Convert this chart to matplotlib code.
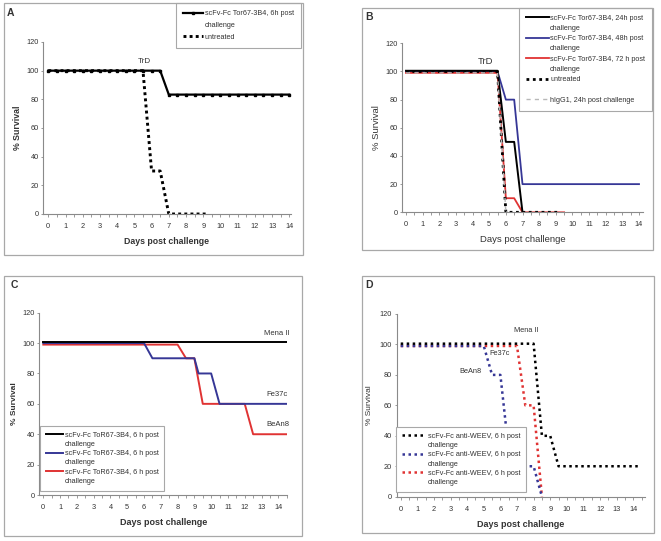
import matplotlib
matplotlib.use("Agg")
import matplotlib.pyplot as plt
import matplotlib.patches as patches
from matplotlib.lines import Line2D

plt.rcParams['font.family'] = ['Liberation Sans', 'DejaVu Sans']

W, H = 661, 541

# ---- data ----
x_ticks = [0, 1, 2, 3, 4, 5, 6, 7, 8, 9, 10, 11, 12, 13, 14]
y_ticks = [0, 20, 40, 60, 80, 100, 120]

# panel A
a_days = [0, 0.5, 1, 1.5, 2, 2.5, 3, 3.5, 4, 4.5, 5, 5.5, 6, 6.5,
          7, 7.5, 8, 8.5, 9, 9.5, 10, 10.5, 11, 11.5, 12, 12.5, 13, 13.5, 14]
a_treated = [100, 100, 100, 100, 100, 100, 100, 100, 100, 100, 100, 100, 100, 100,
             83.3, 83.3, 83.3, 83.3, 83.3, 83.3, 83.3, 83.3, 83.3, 83.3, 83.3, 83.3, 83.3, 83.3, 83.3]
a_untr_days = [0, 5.5, 6, 6.5, 7, 9.2]
a_untr = [100, 100, 30, 30, 0, 0]

# panel B
b_24_days = [0, 5.5, 6, 6.5, 7]
b_24 = [100.5, 100.5, 50, 50, 0]
b_48_days = [0, 5.5, 6, 6.5, 7, 14]
b_48 = [100, 100, 80, 80, 20, 20]
b_72_days = [0, 5.5, 6, 6.5, 7, 9.5]
b_72 = [99, 99, 10, 10, 0, 0]
b_untr_days = [0, 5.5, 6, 9.2]
b_untr = [100, 100, 0, 0]
b_igg_days = [0, 5.5, 6]
b_igg = [99, 99, 0]

# panel C
c_mena_days = [0, 14.5]
c_mena = [101, 101]
c_fe_days = [0, 6, 6.5, 9, 9.25, 10, 10.5, 14.5]
c_fe = [100, 100, 90, 90, 80, 80, 60, 60]
c_be_days = [0, 8, 8.5, 9, 9.5, 12, 12.5, 14.5]
c_be = [99, 99, 90, 90, 60, 60, 40, 40]

# panel D
d_mena_days = [0, 8, 8.5, 9, 9.5, 14.4]
d_mena = [100.5, 100.5, 40, 40, 20, 20]
d_be_days = [0, 5, 5.5, 6, 6.5, 7, 7.5, 8, 8.5]
d_be = [99, 99, 80, 80, 30, 30, 20, 20, 0]
d_fe_days = [0, 7, 7.5, 8, 8.5]
d_fe = [99, 99, 60, 60, 0]

BLUE = '#363796'
RED = '#e03333'
AXC = '#8a8a8a'
TXT = '#333333'

fig = plt.figure(figsize=(W / 100, H / 100), dpi=100)


def frame(x0, y0, x1, y1):
    fig.add_artist(patches.Rectangle((x0 / W, 1 - y1 / H), (x1 - x0) / W, (y1 - y0) / H,
                                     transform=fig.transFigure, fill=False,
                                     edgecolor='#a8a8a8', linewidth=0.9))


def make_ax(x0, x14, left, right, ybot, ytop, xend=False):
    s = (x14 - x0) / 14.0
    ax = fig.add_axes([left / W, 1 - ybot / H, (right - left) / W, (ybot - ytop) / H])
    ax.set_xlim((left - x0) / s, (right - x0) / s)
    ax.set_ylim(0, 120)
    ax.set_xticks(x_ticks)
    ax.set_xticks([t + 0.5 for t in x_ticks[:-1]] + ([14.5] if xend else []), minor=True)
    ax.set_yticks(y_ticks)
    for sp in ['top', 'right']:
        ax.spines[sp].set_visible(False)
    for sp in ['left', 'bottom']:
        ax.spines[sp].set_color(AXC)
        ax.spines[sp].set_linewidth(0.8)
    ax.tick_params(which='both', colors=AXC, labelcolor=TXT, labelsize=5.3, width=0.6)
    ax.tick_params(axis='x', which='major', length=2.5, pad=4)
    ax.tick_params(axis='y', which='major', length=1.8, pad=1.3)
    ax.tick_params(which='minor', length=2)
    ax.patch.set_alpha(0)
    ax._px = (left, right)
    return ax


def ylab(ax, text, xpx, **kw):
    ax.set_ylabel(text, color=TXT, **kw)
    left, right = ax._px
    ax.yaxis.set_label_coords((xpx - left) / (right - left), 0.5)


blank = Line2D([], [], linestyle='none')


def leg(ax, handles, labels, x, y, hl, ls=0.3, bp=0.8):
    lg = ax.legend(handles, labels, loc='upper left', bbox_to_anchor=(x / W, 1 - y / H),
                   bbox_transform=fig.transFigure, borderaxespad=0, fancybox=False,
                   framealpha=1, edgecolor='#a8a8a8', fontsize=5.2, handlelength=hl,
                   handletextpad=0.2, labelspacing=ls, borderpad=bp)
    lg.get_frame().set_linewidth(0.8)
    for t in lg.get_texts():
        t.set_color(TXT)
    return lg


dots = (0, (1, 1.1))

# ---------------- A ----------------
frame(4, 3, 303, 255)
axA = make_ax(48.3, 289.3, 43, 290.5, 214, 42)
axA.plot(a_days, a_treated, color='black', lw=1.6, marker='s', ms=1.6)
axA.plot(a_untr_days, a_untr, color='black', lw=2.1, linestyle=dots)
axA.text(5.6, 104, 'TrD', ha='center', va='bottom', fontsize=5.8, color=TXT)
axA.set_xlabel('Days post challenge', fontsize=6.3, fontweight='bold', color=TXT, labelpad=5)
ylab(axA, '% Survival', 22, fontsize=6.3, fontweight='bold')
fig.text(7 / W, 1 - 16 / H, 'A', fontsize=7.5, fontweight='bold', color=TXT)
leg(axA,
    [Line2D([], [], color='black', lw=1.6, marker='s', ms=1.6), blank,
     Line2D([], [], color='black', lw=2.1, linestyle=dots)],
    ['scFv-Fc Tor67-3B4, 6h post', 'challenge', 'untreated'], 176, 3, 2.8, ls=0.65, bp=1.0)

# ---------------- B ----------------
frame(362, 8, 653, 250)
axB = make_ax(406, 639, 402, 643, 212.3, 43.3)
axB.plot(b_48_days, b_48, color=BLUE, lw=1.3)
axB.plot(b_72_days, b_72, color=RED, lw=1.3)
axB.plot(b_untr_days, b_untr, color='black', lw=2.0, linestyle=(0, (1, 1.3)))
axB.plot(b_24_days, b_24, color='black', lw=1.4)
axB.plot(b_igg_days, b_igg, color='#b8b8b8', lw=1.0, linestyle=(0, (3, 3)))
axB.text(4.75, 104, 'TrD', ha='center', va='bottom', fontsize=6.8, color=TXT)
axB.set_xlabel('Days post challenge', fontsize=6.8, color=TXT, labelpad=5)
ylab(axB, '% Survival', 381, fontsize=6.8)
fig.text(365 / W, 1 - 20 / H, 'B', fontsize=7.5, fontweight='bold', color=TXT)
leg(axB,
    [Line2D([], [], color='black', lw=1.4), blank,
     Line2D([], [], color=BLUE, lw=1.3), blank,
     Line2D([], [], color=RED, lw=1.3), blank,
     Line2D([], [], color='black', lw=2.0, linestyle=(0, (1, 1.3))), blank,
     Line2D([], [], color='#b8b8b8', lw=1.0, linestyle=(0, (3, 3)))],
    ['scFv-Fc Tor67-3B4, 24h post', 'challenge', 'scFv-Fc Tor67-3B4, 48h post', 'challenge',
     'scFv-Fc Tor67-3B4, 72 h post', 'challenge', 'untreated', ' ', 'hIgG1, 24h post challenge'],
    519, 8, 3.2, ls=0.45, bp=0.9)

# ---------------- C ----------------
frame(4, 276, 302, 536)
axC = make_ax(43.3, 278.3, 39.3, 287, 495, 312.7, xend=True)
axC.plot(c_be_days, c_be, color=RED, lw=1.4)
axC.plot(c_fe_days, c_fe, color=BLUE, lw=1.4)
axC.plot(c_mena_days, c_mena, color='black', lw=1.4)
axC.text(13.9, 104, 'Mena II', ha='center', va='bottom', fontsize=5.5, color=TXT)
axC.text(13.9, 64, 'Fe37c', ha='center', va='bottom', fontsize=5.5, color=TXT)
axC.text(14.0, 44, 'BeAn8', ha='center', va='bottom', fontsize=5.5, color=TXT)
axC.set_xlabel('Days post challenge', fontsize=6.5, fontweight='bold', color=TXT, labelpad=5)
ylab(axC, '% Survival', 17.5, fontsize=6.0, fontweight='bold')
fig.text(11 / W, 1 - 288 / H, 'C', fontsize=7.5, fontweight='bold', color=TXT)
leg(axC,
    [Line2D([], [], color='black', lw=1.4), blank,
     Line2D([], [], color=BLUE, lw=1.4), blank,
     Line2D([], [], color=RED, lw=1.4), blank],
    ['scFv-Fc ToR67-3B4, 6 h post', 'challenge'] * 3, 40, 426, 2.4, ls=0.3)

# ---------------- D ----------------
frame(362, 276, 654, 533)
axD = make_ax(400.7, 633.3, 396.5, 645, 496.7, 314, xend=True)
ddots = (0, (1, 1.4))
axD.plot(d_fe_days, d_fe, color=RED, lw=1.8, linestyle=ddots)
axD.plot(d_be_days, d_be, color=BLUE, lw=1.8, linestyle=ddots)
axD.plot(d_mena_days, d_mena, color='black', lw=1.8, linestyle=ddots)
axD.text(7.54, 107, 'Mena II', ha='center', va='bottom', fontsize=5.3, color=TXT)
axD.text(5.98, 91.5, 'Fe37c', ha='center', va='bottom', fontsize=5.3, color=TXT)
axD.text(4.21, 80, 'BeAn8', ha='center', va='bottom', fontsize=5.3, color=TXT)
axD.set_xlabel('Days post challenge', fontsize=6.5, fontweight='bold', color=TXT, labelpad=5)
ylab(axD, '% Survival', 373, fontsize=6.0)
fig.text(365 / W, 1 - 288 / H, 'D', fontsize=7.5, fontweight='bold', color=TXT)
leg(axD,
    [Line2D([], [], color='black', lw=1.8, linestyle=ddots), blank,
     Line2D([], [], color=BLUE, lw=1.8, linestyle=ddots), blank,
     Line2D([], [], color=RED, lw=1.8, linestyle=ddots), blank],
    ['scFv-Fc anti-WEEV, 6 h post', 'challenge'] * 3, 396, 427, 3.4, ls=0.3)

fig.savefig('out.png', dpi=100)
